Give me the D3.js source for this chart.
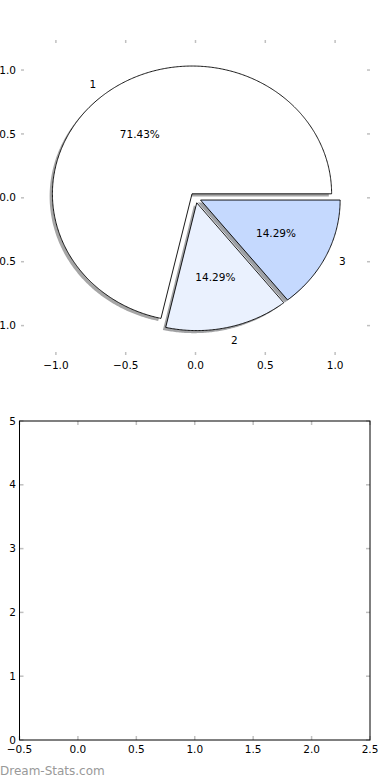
<!DOCTYPE html>
<html>
<head>
<meta charset="utf-8">
<script src="https://cdn.jsdelivr.net/npm/d3@7"></script>
<style>
body { margin: 0; background: #fff; }
text { font-family: "DejaVu Sans", sans-serif; font-size: 10.5px; fill: #000; }
</style>
</head>
<body>
<svg width="390" height="780"></svg>
<script>
var svg = d3.select("svg");

// data
var labels = ["1", "2", "3"];
var values = [5, 1, 1];
var colors = ["#ffffff", "#eaf1fe", "#c5d9fe"];
var explode = [0.04, 0.04, 0.04];
var pieTicks = [-1.0, -0.5, 0.0, 0.5, 1.0];
var barXTicks = [-0.5, 0.0, 0.5, 1.0, 1.5, 2.0, 2.5];
var barYTicks = [0, 1, 2, 3, 4, 5];

var fmt1 = function(d) { return d3.format(".1f")(d).replace("-", "\u2212"); };
var tickColor = "#c0c0c0";

// ---------- pie axes ----------
var px = d3.scaleLinear().domain([-1.25, 1.25]).range([21, 370]);
var py = d3.scaleLinear().domain([-1.23, 1.235]).range([355, 40]);

var total = d3.sum(values);
var wedges = [];
var a0 = 0;
values.forEach(function(v, i) {
    var a1 = a0 + v / total * 2 * Math.PI;
    var mid = (a0 + a1) / 2;
    wedges.push({
        i: i, a0: a0, a1: a1, mid: mid,
        cx: explode[i] * Math.cos(mid),
        cy: explode[i] * Math.sin(mid)
    });
    a0 = a1;
});

function wedgePts(w, dx, dy) {
    var n = Math.max(8, Math.ceil((w.a1 - w.a0) / 0.01));
    var pts = [[w.cx + dx, w.cy + dy]];
    d3.range(n + 1).forEach(function(k) {
        var a = w.a0 + (w.a1 - w.a0) * k / n;
        pts.push([w.cx + dx + Math.cos(a), w.cy + dy + Math.sin(a)]);
    });
    return pts;
}

var line = d3.line().x(function(d) { return px(d[0]); }).y(function(d) { return py(d[1]); });

var pieG = svg.append("g");

// shadows first
pieG.selectAll(".shadow")
    .data(wedges)
    .enter().append("path")
    .attr("d", function(w) { return line(wedgePts(w, -0.02, -0.02)) + "Z"; })
    .attr("fill", function(w) {
        var c = d3.rgb(colors[w.i]);
        return d3.rgb(c.r * 0.3, c.g * 0.3, c.b * 0.3);
    })
    .attr("fill-opacity", 0.5)
    .attr("stroke", "none");

pieG.selectAll(".wedge")
    .data(wedges)
    .enter().append("path")
    .attr("d", function(w) { return line(wedgePts(w, 0, 0)) + "Z"; })
    .attr("fill", function(w) { return colors[w.i]; })
    .attr("stroke", "#000")
    .attr("stroke-width", 0.9)
    .attr("stroke-linejoin", "miter");

// labels
wedges.forEach(function(w) {
    var lx = w.cx + 1.1 * Math.cos(w.mid), ly = w.cy + 1.1 * Math.sin(w.mid);
    pieG.append("text")
        .attr("x", px(lx)).attr("y", py(ly))
        .attr("dy", "0.35em")
        .attr("text-anchor", lx < 0 ? "end" : "start")
        .text(labels[w.i]);
    var tx = w.cx + 0.6 * Math.cos(w.mid), ty = w.cy + 0.6 * Math.sin(w.mid);
    pieG.append("text")
        .attr("x", px(tx)).attr("y", py(ty))
        .attr("dy", "0.35em")
        .attr("text-anchor", "middle")
        .text(d3.format(".2f")(values[w.i] / total * 100) + "%");
});

// pie ticks (no frame)
var pr = px.range(), pyr = py.range();
pieTicks.forEach(function(t) {
    pieG.append("line").attr("x1", px(t)).attr("x2", px(t)).attr("y1", pyr[0]).attr("y2", pyr[0] - 3).attr("stroke", tickColor).attr("stroke-width", 1.5);
    pieG.append("line").attr("x1", px(t)).attr("x2", px(t)).attr("y1", pyr[1]).attr("y2", pyr[1] + 3).attr("stroke", tickColor).attr("stroke-width", 1.5);
    pieG.append("line").attr("x1", pr[0]).attr("x2", pr[0] + 3).attr("y1", py(t)).attr("y2", py(t)).attr("stroke", tickColor).attr("stroke-width", 1.5);
    pieG.append("line").attr("x1", pr[1]).attr("x2", pr[1] - 3).attr("y1", py(t)).attr("y2", py(t)).attr("stroke", tickColor).attr("stroke-width", 1.5);
    pieG.append("text").attr("x", px(t)).attr("y", pyr[0] + 10).attr("dy", "0.35em").attr("text-anchor", "middle").text(fmt1(t));
    pieG.append("text").attr("x", pr[0] - 5).attr("y", py(t)).attr("dy", "0.35em").attr("text-anchor", "end").text(fmt1(t));
});

// ---------- empty bottom axes ----------
var bx = d3.scaleLinear().domain([-0.5, 2.5]).range([19.5, 370]);
var by = d3.scaleLinear().domain([0, 5]).range([740, 421]);
var bg = svg.append("g");

barXTicks.forEach(function(t) {
    bg.append("line").attr("x1", bx(t)).attr("x2", bx(t)).attr("y1", 740).attr("y2", 736).attr("stroke", tickColor).attr("stroke-width", 1.5);
    bg.append("line").attr("x1", bx(t)).attr("x2", bx(t)).attr("y1", 421).attr("y2", 425).attr("stroke", tickColor).attr("stroke-width", 1.5);
    bg.append("text").attr("x", bx(t)).attr("y", 749).attr("dy", "0.35em").attr("text-anchor", "middle").text(fmt1(t));
});
barYTicks.forEach(function(t) {
    bg.append("line").attr("x1", 19.5).attr("x2", 23.5).attr("y1", by(t)).attr("y2", by(t)).attr("stroke", tickColor).attr("stroke-width", 1.5);
    bg.append("line").attr("x1", 370).attr("x2", 366).attr("y1", by(t)).attr("y2", by(t)).attr("stroke", tickColor).attr("stroke-width", 1.5);
    bg.append("text").attr("x", 16).attr("y", by(t)).attr("dy", "0.35em").attr("text-anchor", "end").text(t);
});

bg.append("rect")
    .attr("x", bx(-0.5)).attr("y", by(5))
    .attr("width", bx(2.5) - bx(-0.5)).attr("height", by(0) - by(5))
    .attr("fill", "none").attr("stroke", "#000").attr("stroke-width", 1);

svg.append("text")
    .attr("x", 0).attr("y", 775)
    .style("font-size", "12px")
    .style("fill", "#999")
    .text("Dream-Stats.com");
</script>
</body>
</html>
